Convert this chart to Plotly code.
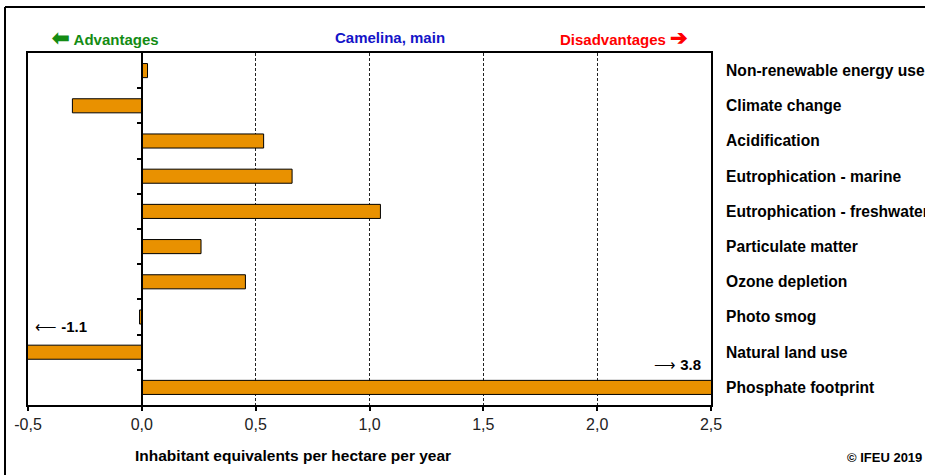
import plotly.graph_objects as go

# Impact categories (top to bottom) and results for Camelina, main
categories = [
    "Non-renewable energy use",
    "Climate change",
    "Acidification",
    "Eutrophication - marine",
    "Eutrophication - freshwater",
    "Particulate matter",
    "Ozone depletion",
    "Photo smog",
    "Natural land use",
    "Phosphate footprint",
]
values = [0.025, -0.305, 0.535, 0.66, 1.048, 0.26, 0.455, -0.01, -1.1, 3.8]

x_range = [-0.5, 2.5]
x_ticks = [-0.5, 0.0, 0.5, 1.0, 1.5, 2.0, 2.5]
x_tick_text = ["-0,5", "0,0", "0,5", "1,0", "1,5", "2,0", "2,5"]
row_edges = [i + 0.5 for i in range(len(categories) - 1)]

FONT = "Liberation Sans, Arial, sans-serif"
BAR_COLOR = "#E99100"

W, H = 925, 475
M = dict(l=28, r=214, t=53, b=70)
PW = W - M["l"] - M["r"]
PH = H - M["t"] - M["b"]


def px(x):
    return (x - M["l"]) / PW


def py(y):
    return (H - M["b"] - y) / PH


fig = go.Figure()

fig.add_trace(go.Bar(
    x=values,
    y=categories,
    orientation="h",
    width=0.4,
    marker=dict(color=BAR_COLOR, line=dict(color="#000000", width=1)),
    hoverinfo="x+y",
    showlegend=False,
))

# carrier trace for the axis drawn through zero
fig.add_trace(go.Scatter(x=[None], y=[None], yaxis="y2", showlegend=False,
                         hoverinfo="skip"))

fig.update_layout(
    width=W, height=H,
    margin=M,
    paper_bgcolor="white",
    plot_bgcolor="white",
    font=dict(family=FONT, size=15, color="#000"),
    xaxis=dict(
        range=x_range,
        tickvals=x_ticks,
        ticktext=x_tick_text,
        tickfont=dict(size=16, color="#222"),
        ticks="outside", ticklen=4, tickwidth=2, tickcolor="#000",
        showline=True, linewidth=2, linecolor="#000", mirror=True,
        showgrid=True, gridcolor="#222", gridwidth=1, griddash="3px,2px",
        zeroline=False, automargin=False,
        fixedrange=True,
    ),
    yaxis=dict(
        type="category",
        categoryorder="array",
        categoryarray=categories,
        range=[len(categories) - 0.5, -0.5],
        side="right",
        ticks="", ticklabelstandoff=10,
        tickfont=dict(size=15.6, color="#000", weight="bold"),
        showline=True, linewidth=2, linecolor="#000", mirror=True,
        showgrid=False, zeroline=False, automargin=False,
        fixedrange=True,
    ),
    yaxis2=dict(
        overlaying="y",
        anchor="free",
        position=(0 - x_range[0]) / (x_range[1] - x_range[0]),
        side="left",
        range=[len(categories) - 0.5, -0.5],
        tickvals=row_edges,
        showticklabels=False,
        ticks="outside", ticklen=4, tickwidth=2, tickcolor="#000",
        showline=True, linewidth=2, linecolor="#000",
        showgrid=False, zeroline=False, automargin=False,
        fixedrange=True,
    ),
)

BIG = '<span style="font-size:21px">%s</span>'
annotations = [
    dict(text="<b>" + BIG % "⬅" + " Advantages</b>", x=px(50), y=py(38),
         xanchor="left", yanchor="middle", font=dict(size=15, color="#148C14")),
    dict(text="<b>Camelina, main</b>", x=px(389.5), y=py(38), xanchor="center",
         yanchor="middle", font=dict(size=15, color="#1414C8")),
    dict(text="<b>Disadvantages " + BIG % "➔" + "</b>", x=px(558), y=py(38),
         xanchor="left", yanchor="middle", font=dict(size=15, color="#FF0000")),
    dict(text="<b>Inhabitant equivalents per hectare per year</b>", x=px(133),
         y=py(455), xanchor="left", yanchor="middle", font=dict(size=15.5)),
    dict(text="<b>© IFEU 2019</b>", x=px(924), y=py(457), xanchor="right",
         yanchor="middle", font=dict(size=13)),
]
for a in annotations:
    a.update(xref="paper", yref="paper", showarrow=False)
    fig.add_annotation(**a)

# value notes for bars running past the axis range
fig.add_annotation(text="⟵ <b>%.1f</b>" % values[8], x=x_range[0], y=7.26,
                   xref="x", yref="y", xanchor="left", yanchor="middle",
                   xshift=5, showarrow=False, font=dict(size=15))
fig.add_annotation(text="⟶ <b>%.1f</b>" % values[9], x=x_range[1], y=8.36,
                   xref="x", yref="y", xanchor="right", yanchor="middle",
                   xshift=-8, showarrow=False, font=dict(size=15))

# outer frame: top and left edges
frame = dict(type="line", xref="paper", yref="paper",
             line=dict(color="#000", width=2), layer="above")
fig.add_shape(x0=px(5), x1=px(W + 5), y0=py(7), y1=py(7), **frame)
fig.add_shape(x0=px(5), x1=px(5), y0=py(7), y1=py(H + 5), **frame)

fig.write_html("out.html")
